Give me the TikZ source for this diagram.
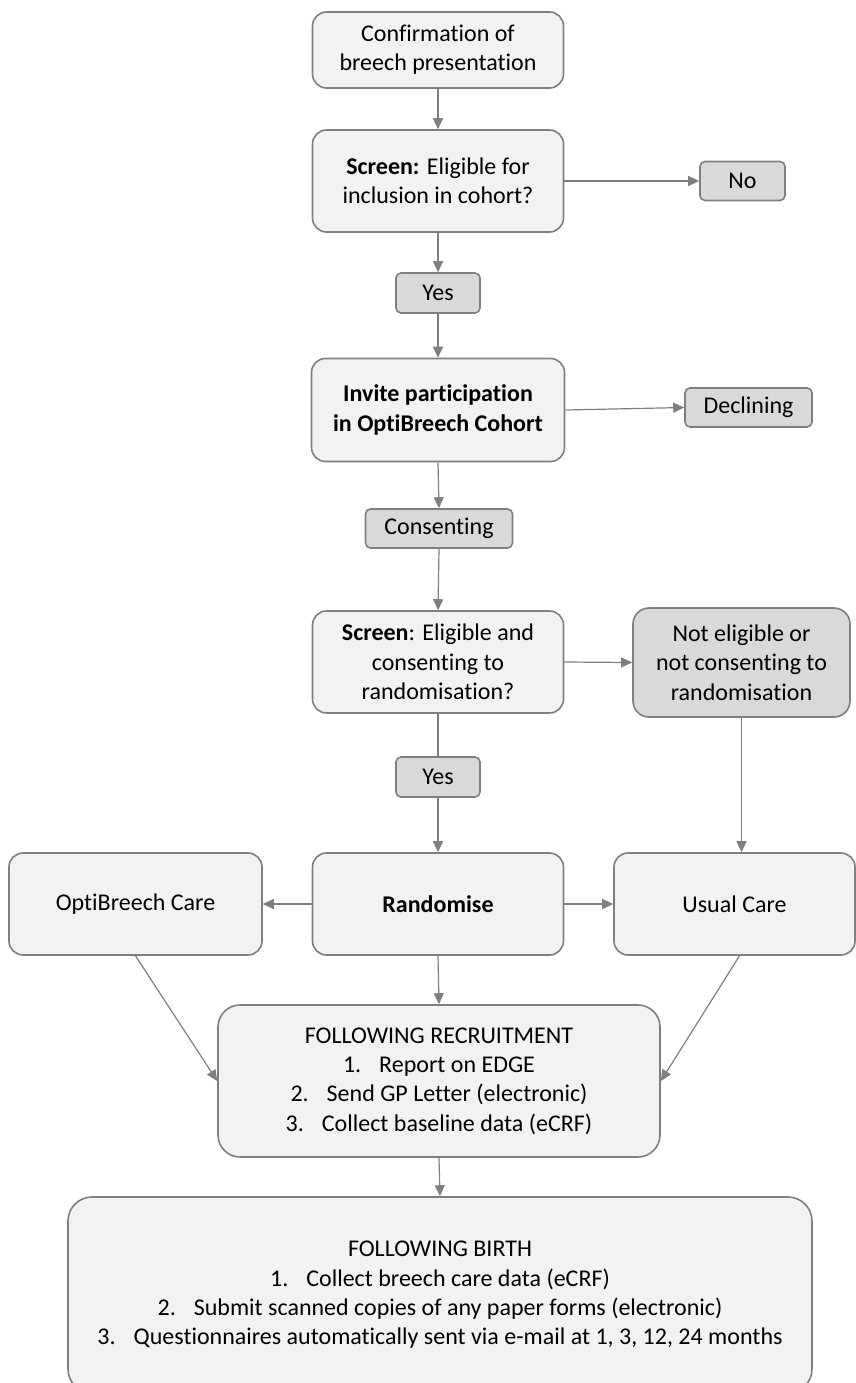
\documentclass[tikz,border=0pt]{standalone}
\usepackage{fontspec}
\setmainfont{Carlito}[Ligatures={NoCommon}]
\usetikzlibrary{arrows.meta}
\definecolor{boxlight}{HTML}{F2F2F2}
\definecolor{boxdark}{HTML}{D9D9D9}
\definecolor{edgegray}{HTML}{7F7F7F}
\begin{document}
\begin{tikzpicture}[x=1pt,y=-1pt,
  basebox/.style={draw=edgegray, line width=1.6pt, align=center, inner sep=0pt,
    font=\fontsize{24}{29.3}\selectfont, text=black},
  mainbox/.style={basebox, fill=boxlight, rounded corners=14pt},
  smallbox/.style={basebox, fill=boxdark, rounded corners=5pt},
  conn/.style={draw=edgegray, line width=1.2pt},
  arr/.style={conn, -{Triangle[length=11pt,width=10pt]}, color=edgegray}
]
\useasboundingbox (0,0) rectangle (856,1383);
\clip (0,0) rectangle (856,1383);

\node[mainbox, minimum width=251pt, minimum height=76pt] (confirm) at (438,50)
  {Confirmation of\\breech presentation};
\node[mainbox, minimum width=251pt, minimum height=102pt] (screen1) at (438,181)
  {\textbf{Screen:} Eligible for\\inclusion in cohort?};
\node[smallbox, minimum width=85pt, minimum height=39pt] (no) at (742.5,181)
  {No};
\node[smallbox, minimum width=84pt, minimum height=40pt] (yes1) at (438,293)
  {Yes};
\node[mainbox, minimum width=253pt, minimum height=103pt] (invite) at (438,410)
  {\textbf{Invite participation}\\\textbf{in OptiBreech Cohort}};
\node[smallbox, minimum width=127pt, minimum height=39pt] (decline) at (748.5,407.5)
  {Declining};
\node[smallbox, minimum width=147pt, minimum height=39pt] (consent) at (439,528.5)
  {Consenting};
\node[mainbox, minimum width=251pt, minimum height=102pt] (screen2) at (438,662)
  {\textbf{Screen}: Eligible and\\consenting to\\randomisation?};
\node[basebox, fill=boxdark, rounded corners=16pt, minimum width=217pt, minimum height=109pt] (notelig) at (741.5,662.5)
  {Not eligible or\\not consenting to\\randomisation};
\node[smallbox, minimum width=84pt, minimum height=40pt] (yes2) at (438,777)
  {Yes};
\node[mainbox, minimum width=251pt, minimum height=102pt] (random) at (438,904)
  {\textbf{Randomise}};
\node[mainbox, minimum width=253pt, minimum height=102pt] (opti) at (135.5,904)
  {OptiBreech Care};
\node[mainbox, minimum width=241pt, minimum height=102pt] (usual) at (734.5,904)
  {Usual Care};
\node[basebox, fill=boxlight, rounded corners=22pt, minimum width=442pt, minimum height=152pt] (recruit) at (439,1081)
  {FOLLOWING RECRUITMENT\\1.\hspace{18pt}Report on EDGE\\2.\hspace{18pt}Send GP Letter (electronic)\\3.\hspace{18pt}Collect baseline data (eCRF)};
\node[basebox, fill=boxlight, rounded corners=24pt, minimum width=744pt, minimum height=196pt] (birth) at (440,1295)
  {FOLLOWING BIRTH\\1.\hspace{18pt}Collect breech care data (eCRF)\\2.\hspace{18pt}Submit scanned copies of any paper forms (electronic)\\3.\hspace{18pt}Questionnaires automatically sent via e-mail at 1, 3, 12, 24 months};

\draw[arr] (confirm.south) -- (screen1.north);
\draw[arr] (screen1.east) -- (no.west);
\draw[arr] (screen1.south) -- (yes1.north);
\draw[arr] (yes1.south) -- (invite.north);
\draw[arr] (invite.east) -- (decline.west);
\draw[arr] (invite.south) -- (consent.north);
\draw[arr] (consent.south) -- (screen2.north);
\draw[arr] (screen2.east) -- (notelig.west);
\draw[conn] (screen2.south) -- (yes2.north);
\draw[arr] (yes2.south) -- (random.north);
\draw[arr] (notelig.south) -- (notelig.south |- usual.north);
\draw[arr] (random.west) -- (opti.east);
\draw[arr] (random.east) -- (usual.west);
\draw[arr] (random.south) -- (recruit.north);
\draw[arr] (opti.south) -- (recruit.west);
\draw[arr] ([xshift=5pt]usual.south) -- (recruit.east);
\draw[arr] (recruit.south) -- (birth.north);
\end{tikzpicture}
\end{document}
